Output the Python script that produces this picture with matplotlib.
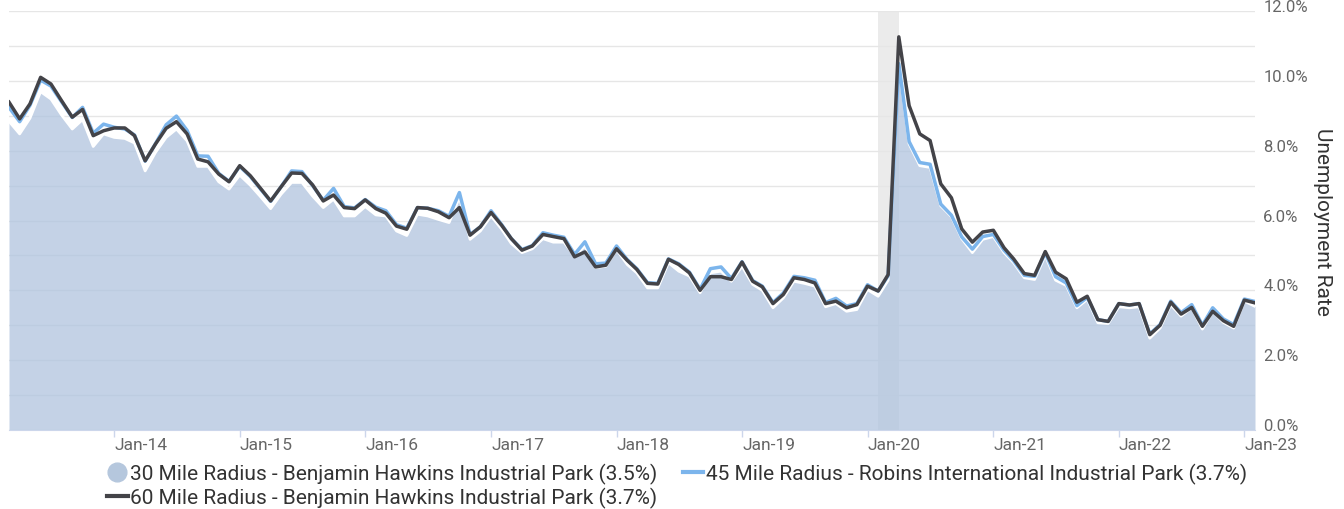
import matplotlib
matplotlib.use("Agg")
import matplotlib.pyplot as plt
import matplotlib.dates as mdates
from matplotlib.lines import Line2D
from matplotlib.ticker import FixedLocator, FuncFormatter
import pandas as pd

plt.rcParams['font.family'] = ['Roboto', 'DejaVu Sans']

months = pd.date_range("2013-03-01", "2023-02-01", freq="MS")

r60 = [9.39, 8.91, 9.34, 10.10, 9.91, 9.43, 8.96, 9.18, 8.43, 8.57,
       8.65, 8.65, 8.43, 7.71, 8.19, 8.64, 8.83, 8.48, 7.76, 7.68,
       7.33, 7.11, 7.57, 7.28, 6.94, 6.56, 6.96, 7.36, 7.35, 7.02,
       6.56, 6.73, 6.37, 6.34, 6.59, 6.34, 6.21, 5.84, 5.75, 6.37,
       6.35, 6.25, 6.08, 6.37, 5.58, 5.82, 6.23, 5.86, 5.48, 5.15,
       5.27, 5.60, 5.54, 5.48, 4.96, 5.10, 4.67, 4.72, 5.19, 4.86,
       4.60, 4.20, 4.18, 4.89, 4.74, 4.50, 4.00, 4.39, 4.39, 4.31,
       4.81, 4.26, 4.10, 3.62, 3.88, 4.36, 4.31, 4.21, 3.62, 3.69,
       3.50, 3.59, 4.12, 3.98, 4.45, 11.26, 9.29, 8.48, 8.29, 7.05,
       6.65, 5.76, 5.38, 5.67, 5.72, 5.22, 4.90, 4.48, 4.43, 5.11,
       4.52, 4.33, 3.66, 3.83, 3.16, 3.11, 3.62, 3.58, 3.62, 2.73,
       3.00, 3.66, 3.32, 3.51, 2.97, 3.40, 3.13, 2.97, 3.72, 3.64]

r30 = [8.84, 8.48, 8.93, 9.69, 9.48, 9.02, 8.62, 8.89, 8.12, 8.48,
       8.38, 8.35, 8.22, 7.42, 7.95, 8.38, 8.62, 8.28, 7.55, 7.55,
       7.11, 6.90, 7.30, 7.01, 6.70, 6.34, 6.75, 7.09, 7.09, 6.70,
       6.37, 6.61, 6.13, 6.13, 6.40, 6.16, 6.13, 5.70, 5.57, 6.18,
       6.13, 6.03, 5.94, 6.66, 5.46, 5.70, 6.13, 5.75, 5.34, 5.08,
       5.19, 5.48, 5.38, 5.38, 4.98, 5.27, 4.65, 4.69, 5.17, 4.74,
       4.50, 4.07, 4.07, 4.79, 4.55, 4.41, 3.93, 4.50, 4.55, 4.26,
       4.69, 4.17, 4.00, 3.50, 3.78, 4.26, 4.20, 4.12, 3.53, 3.62,
       3.40, 3.45, 4.02, 3.83, 4.29, 10.44, 8.19, 7.57, 7.52, 6.42,
       6.11, 5.48, 5.08, 5.46, 5.54, 5.08, 4.79, 4.36, 4.31, 5.00,
       4.29, 4.14, 3.50, 3.74, 3.07, 3.05, 3.53, 3.50, 3.53, 2.63,
       2.92, 3.59, 3.26, 3.50, 2.89, 3.40, 3.08, 2.92, 3.69, 3.54]

r45 = [9.24, 8.83, 9.30, 10.02, 9.85, 9.40, 8.95, 9.24, 8.50, 8.76,
       8.67, 8.62, 8.45, 7.70, 8.20, 8.74, 8.99, 8.58, 7.85, 7.84,
       7.35, 7.12, 7.55, 7.26, 6.92, 6.55, 6.96, 7.42, 7.40, 7.00,
       6.58, 6.92, 6.40, 6.36, 6.60, 6.38, 6.28, 5.88, 5.78, 6.37,
       6.35, 6.28, 6.12, 6.80, 5.60, 5.82, 6.28, 5.88, 5.48, 5.17,
       5.28, 5.65, 5.58, 5.52, 5.03, 5.39, 4.76, 4.78, 5.27, 4.88,
       4.62, 4.22, 4.20, 4.90, 4.76, 4.52, 4.03, 4.62, 4.67, 4.34,
       4.82, 4.28, 4.12, 3.65, 3.92, 4.40, 4.36, 4.29, 3.65, 3.77,
       3.55, 3.62, 4.16, 3.98, 4.42, 10.49, 8.26, 7.66, 7.61, 6.47,
       6.15, 5.53, 5.18, 5.54, 5.60, 5.15, 4.85, 4.43, 4.40, 5.08,
       4.39, 4.21, 3.56, 3.80, 3.16, 3.11, 3.62, 3.58, 3.62, 2.75,
       3.02, 3.69, 3.36, 3.59, 3.00, 3.50, 3.18, 3.02, 3.75, 3.68]

labels = ["30 Mile Radius - Benjamin Hawkins Industrial Park (3.5%)",
          "45 Mile Radius - Robins International Industrial Park (3.7%)",
          "60 Mile Radius - Benjamin Hawkins Industrial Park (3.7%)"]
recession = (pd.Timestamp("2020-02-01"), pd.Timestamp("2020-04-01"))
year_ticks = pd.date_range("2014-01-01", "2023-01-01", freq="YS")

W, H = 1344, 510
fig = plt.figure(figsize=(W / 100, H / 100), dpi=100)
ax = fig.add_axes([9 / W, (H - 431) / H, 1246 / W, 419 / H])

ax.axvspan(recession[0], recession[1], color="#ebebeb", zorder=0.5, lw=0)
ax.fill_between(months, r30, 0, color="#b0c4de", alpha=0.75, lw=0, zorder=1)
ax.plot(months, r30, color="white", lw=2, zorder=1.5)
ax.plot(months, r45, color="#7cb5ec", lw=2.5, zorder=2, solid_joinstyle="round")
ax.plot(months, r60, color="#434348", lw=2.5, zorder=3, solid_joinstyle="round")

ax.set_xlim(months[0], months[-1])
ax.set_ylim(0, 12)

ax.yaxis.set_major_locator(FixedLocator(list(range(0, 13))))
ax.yaxis.set_major_formatter(FuncFormatter(lambda v, p: f"{v:.1f}%" if int(round(v)) % 2 == 0 else ""))
ax.yaxis.tick_right()
ax.tick_params(axis="y", length=0, pad=6, labelsize=12, labelcolor="#666666")
for lab in ax.get_yticklabels():
    lab.set_verticalalignment("baseline")
ax.grid(axis="y", color="#e6e6e6", lw=1, zorder=0)
ax.set_axisbelow(True)

ax.set_xticks(year_ticks)
ax.xaxis.set_major_formatter(mdates.DateFormatter("Jan-%y"))
ax.tick_params(axis="x", length=5, width=1, color="#ccd6eb", labelsize=12.5,
               labelcolor="#666666", pad=0)
for lab in ax.get_xticklabels():
    lab.set_horizontalalignment("left")

for s in ["top", "left", "right"]:
    ax.spines[s].set_visible(False)
ax.spines["bottom"].set_color("#ccd6eb")

ax.yaxis.set_label_position("right")
ax.set_ylabel("Unemployment Rate", rotation=270, fontsize=15, color="#333333", va="center")
ax.yaxis.set_label_coords(1.054, 0.5)

handles = [Line2D([], [], marker="o", ls="none", markersize=13.5, color="#b5c7dd"),
           Line2D([], [], color="#434348", lw=3),
           Line2D([], [], color="#7cb5ec", lw=3)]
fig.legend(handles, [labels[0], labels[2], labels[1]], ncol=2, loc="center",
           bbox_to_anchor=(677 / W, (H - 486.5) / H), frameon=False, fontsize=15,
           labelcolor="#333333", handlelength=1.0, handletextpad=0.12,
           columnspacing=1.2, labelspacing=0.1, borderpad=0, borderaxespad=0)

fig.savefig("out.png", dpi=100)
